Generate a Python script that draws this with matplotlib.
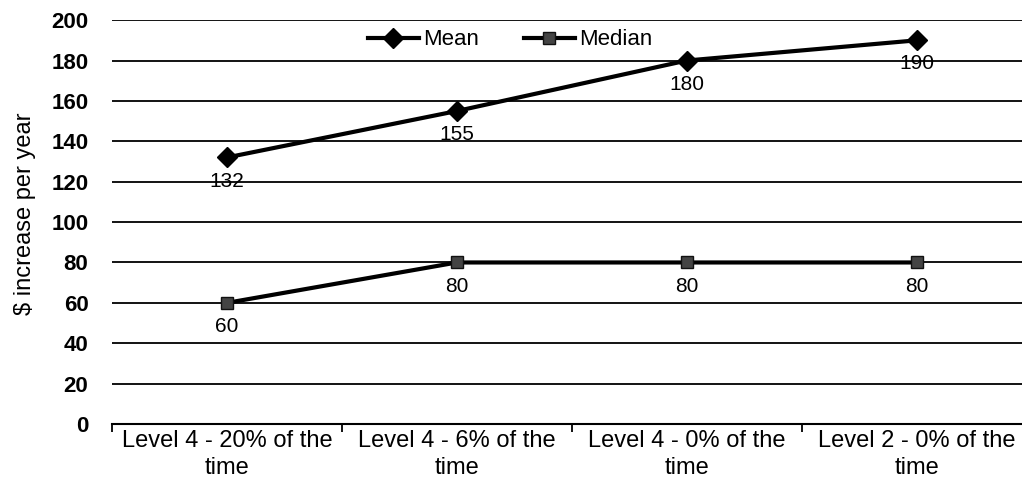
import numpy as np
import matplotlib.pyplot as plt

plt.rcParams['font.family'] = ['Liberation Sans', 'DejaVu Sans']

categories = ['Level 4 - 20% of the\ntime', 'Level 4 - 6% of the\ntime',
              'Level 4 - 0% of the\ntime', 'Level 2 - 0% of the\ntime']
mean_vals = [132, 155, 180, 190]
median_vals = [60, 80, 80, 80]

fig = plt.figure(figsize=(10.22, 5.03), dpi=100)
ax = fig.add_axes([0.1096, 0.157, 0.900, 0.803])

x = np.arange(len(categories))
ax.plot(x, mean_vals, color='black', lw=3, marker='D', ms=10,
        mfc='black', mec='black', label='Mean', zorder=3)
ax.plot(x, median_vals, color='black', lw=3, marker='s', ms=9,
        mfc='#444444', mec='#111111', label='Median', zorder=3)

# data labels under the points
for xi, v in zip(x, mean_vals):
    ax.annotate(str(v), (xi, v), xytext=(0, -17), textcoords='offset points',
                ha='center', va='center', fontsize=15)
for xi, v in zip(x, median_vals):
    ax.annotate(str(v), (xi, v), xytext=(0, -17), textcoords='offset points',
                ha='center', va='center', fontsize=15)

ax.set_xlim(-0.5, len(categories) - 0.5)
ax.set_ylim(0, 200)
ax.set_yticks(range(0, 201, 20))
ax.set_yticklabels([str(t) for t in range(0, 201, 20)], fontsize=16,
                   fontweight='bold')
ax.yaxis.grid(True, color='black', lw=1.3)
ax.set_axisbelow(True)
ax.tick_params(axis='y', length=0, pad=17)

# category boundaries as ticks on the x axis
ax.set_xticks(np.arange(-0.5, len(categories), 1.0))
ax.set_xticklabels([])
ax.set_xticks(x, minor=True)
ax.set_xticklabels(categories, minor=True, fontsize=17, linespacing=1.3)
ax.tick_params(axis='x', which='major', length=6, width=1.3, direction='out')
ax.tick_params(axis='x', which='minor', length=0, pad=4)

for s in ['top', 'right', 'left']:
    ax.spines[s].set_visible(False)
ax.spines['bottom'].set_linewidth(1.5)

ax.set_ylabel('$ increase per year', fontsize=17)
ax.yaxis.set_label_coords(-0.083, 0.52)

ax.legend(loc='upper center', bbox_to_anchor=(0.433, 1.01), ncol=2,
          frameon=False, fontsize=16, handlelength=2.3, columnspacing=2.0,
          handletextpad=0.2, borderaxespad=0.2)

fig.savefig('out.png', dpi=100)
